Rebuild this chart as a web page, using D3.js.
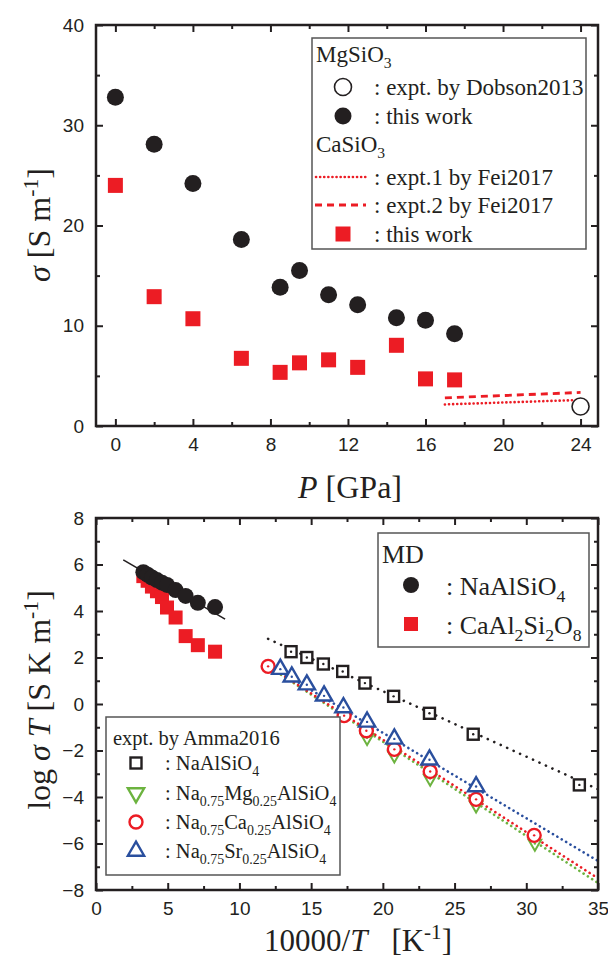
<!DOCTYPE html>
<html>
<head>
<meta charset="utf-8">
<script src="https://cdn.jsdelivr.net/npm/d3@7"></script>
<style>
  body { margin: 0; background: #fff; }
  svg { display: block; }
  .tick text { font-family: "Liberation Sans", Arial, sans-serif; font-size: 19px; fill: #231f20; }
  .tick line { stroke: #231f20; stroke-width: 2; }
  .serif { font-family: "Liberation Serif", "Times New Roman", serif; fill: #231f20; }
</style>
</head>
<body>
<svg id="chart" width="608" height="960"></svg>
<script>
// --- top panel: sigma vs pressure
const pressure = [0, 2, 4, 6.5, 8.5, 9.5, 11, 12.5, 14.5, 16, 17.5]
const mgsio3Sigma = [32.8, 28.1, 24.2, 18.6, 13.85, 15.5, 13.1, 12.1, 10.8, 10.55, 9.2]
const casio3Sigma = [24.0, 12.9, 10.7, 6.75, 5.35, 6.3, 6.6, 5.85, 8.05, 4.7, 4.6]
const dobsonP = [24]
const dobsonSigma = [1.95]
const fei1 = [[17, 2.15], [24, 2.6]]
const fei2 = [[17, 2.8], [24, 3.35]]

// --- bottom panel: log(sigma T) vs 10000/T
const mdInvT = [3.3, 3.6, 3.9, 4.25, 4.6, 4.95, 5.55, 6.25, 7.1, 8.3]
const mdNaAlSiO4 = [5.67, 5.56, 5.44, 5.33, 5.22, 5.12, 4.9, 4.65, 4.35, 4.17]
const mdCaAl2Si2O8 = [5.5, 5.3, 5.05, 4.85, 4.6, 4.15, 3.72, 2.92, 2.53, 2.25]
const mdFit = [[1.9, 6.2], [9.0, 3.65]]

const naInvT = [13.6, 14.7, 15.85, 17.2, 18.75, 20.75, 23.25, 26.3, 33.7]
const naLog = [2.25, 2.0, 1.72, 1.4, 0.9, 0.33, -0.4, -1.3, -3.48]
const naFit = [[12, 2.8], [35, -3.67]]

const mgInvT = [18.9, 20.8, 23.3, 26.5, 30.6]
const mgLog = [-1.45, -2.2, -3.2, -4.35, -6.0]
const mgFit = [[12.3, 1.5], [35, -7.7]]

const caInvT = [12.0, 17.3, 18.85, 20.8, 23.3, 26.5, 30.55]
const caLog = [1.62, -0.5, -1.15, -1.95, -2.9, -4.1, -5.65]
const caFit = [[12.0, 1.65], [35, -7.5]]

const srInvT = [12.85, 13.65, 14.7, 15.9, 17.25, 18.9, 20.8, 23.25, 26.5]
const srLog = [1.5, 1.17, 0.83, 0.35, -0.15, -0.77, -1.5, -2.4, -3.55]
const srFit = [[12.0, 1.7], [35, -6.75]]

const topXTicks = [0, 4, 8, 12, 16, 20, 24]
const topXMinor = [2, 6, 10, 14, 18, 22]
const topYTicks = [0, 10, 20, 30, 40]
const topYMinor = [5, 15, 25, 35]
const botXTicks = [0, 5, 10, 15, 20, 25, 30, 35]
const botXMinor = [2.5, 7.5, 12.5, 17.5, 22.5, 27.5, 32.5]
const botYTicks = [-8, -6, -4, -2, 0, 2, 4, 6, 8]
const botYMinor = [-7, -5, -3, -1, 1, 3, 5, 7]

const BLACK = '#231f20', RED = '#ec1c24', BLUE = '#2a4f9e', GREEN = '#6cb33f'

const svg = d3.select('#chart')

// text made of pieces: [text, kind] where kind is sub / sup / i / gap
function rich(g, x, y, parts, size, opts = {}) {
  const t = g.append('text').attr('class', 'serif').attr('x', x).attr('y', y)
    .attr('font-size', size)
  if(opts.anchor) t.attr('text-anchor', opts.anchor)
  if(opts.transform) t.attr('transform', opts.transform)
  let shift = 0
  parts.forEach(([s, k, dx])=> {
    const ts = t.append('tspan').text(s)
    let target = 0
    if(k === 'sub') { target = size * 0.28; ts.attr('font-size', size * 0.68) }
    if(k === 'sup') { target = -size * 0.38; ts.attr('font-size', size * 0.68) }
    if(k === 'i') ts.attr('font-style', 'italic')
    if(dx) ts.attr('dx', dx)
    if(target !== shift) ts.attr('dy', target - shift)
    shift = target
  })
  return t
}

function frame(x, y, xt, xm, yt, ym) {
  const g = svg.append('g')
  const [x0, x1] = x.range(), [y0, y1] = y.range()
  const axes = [
    [d3.axisBottom(x), `translate(0,${y0})`, xt, xm, true],
    [d3.axisTop(x), `translate(0,${y1})`, xt, xm, false],
    [d3.axisLeft(y), `translate(${x0},0)`, yt, ym, true],
    [d3.axisRight(y), `translate(${x1},0)`, yt, ym, false],
  ]
  axes.forEach(([ax, tr, major, minor, labels])=> {
    const a = g.append('g').attr('transform', tr)
      .call(ax.tickValues(major).tickSizeInner(-7).tickSizeOuter(0).tickPadding(labels ? 12 : 0)
        .tickFormat(labels ? d3.format('') : ''))
    a.select('.domain').remove()
    const b = g.append('g').attr('transform', tr)
      .call(ax.tickValues(minor).tickSizeInner(-4).tickFormat(''))
    b.select('.domain').remove()
  })
  g.append('rect').attr('x', x0).attr('y', y1).attr('width', x1 - x0).attr('height', y0 - y1)
    .attr('fill', 'none').attr('stroke', BLACK).attr('stroke-width', 2.5)
  return g
}

function dots(g, xs, ys, x, y, draw) {
  xs.forEach((v, i)=> draw(g, x(v), y(ys[i])))
}
const filledCircle = (r, c)=> (g, cx, cy)=> g.append('circle').attr('cx', cx).attr('cy', cy).attr('r', r).attr('fill', c)
const filledSquare = (s, c)=> (g, cx, cy)=> g.append('rect').attr('x', cx - s / 2).attr('y', cy - s / 2)
  .attr('width', s).attr('height', s).attr('fill', c)
const openCircle = (r, c, w, dot)=> (g, cx, cy)=> {
  g.append('circle').attr('cx', cx).attr('cy', cy).attr('r', r).attr('fill', '#fff').attr('stroke', c).attr('stroke-width', w)
  if(dot) g.append('circle').attr('cx', cx).attr('cy', cy).attr('r', 1.2).attr('fill', c)
}
const openSquare = (s, c, w, dot)=> (g, cx, cy)=> {
  g.append('rect').attr('x', cx - s / 2).attr('y', cy - s / 2).attr('width', s).attr('height', s)
    .attr('fill', '#fff').attr('stroke', c).attr('stroke-width', w)
  if(dot) g.append('circle').attr('cx', cx).attr('cy', cy).attr('r', 1.2).attr('fill', c)
}
const openTri = (size, c, w, down, dot)=> (g, cx, cy)=> {
  g.append('path').attr('d', d3.symbol(d3.symbolTriangle, size)())
    .attr('transform', `translate(${cx},${cy})${down ? ' rotate(180)' : ''}`)
    .attr('fill', '#fff').attr('stroke', c).attr('stroke-width', w)
  if(dot) g.append('circle').attr('cx', cx).attr('cy', cy).attr('r', 1.2).attr('fill', c)
}

function fitLine(g, pts, x, y, color, dash, width = 2.5, cap = 'round') {
  g.append('path').attr('d', d3.line().x((d)=> x(d[0])).y((d)=> y(d[1]))(pts))
    .attr('fill', 'none').attr('stroke', color).attr('stroke-width', width)
    .attr('stroke-dasharray', dash).attr('stroke-linecap', cap)
}

// ================= top panel
{
  const x = d3.scaleLinear().domain([-1, 24.9]).range([96, 598])
  const y = d3.scaleLinear().domain([0, 40]).range([426, 25])
  const g = svg.append('g')

  fitLine(g, fei1, x, y, RED, '0.1,4', 2.6)
  fitLine(g, fei2, x, y, RED, '7,5', 2.8, 'butt')
  dots(g, pressure, mgsio3Sigma, x, y, filledCircle(8.5, BLACK))
  dots(g, pressure, casio3Sigma, x, y, filledSquare(15, RED))
  dots(g, dobsonP, dobsonSigma, x, y, openCircle(8.5, BLACK, 1.6, false))

  frame(x, y, topXTicks, topXMinor, topYTicks, topYMinor)

  // legend
  const lg = svg.append('g')
  lg.append('rect').attr('x', 312).attr('y', 38).attr('width', 274).attr('height', 211)
    .attr('fill', '#fff').attr('stroke', '#555').attr('stroke-width', 1.5)
  const fs = 23
  rich(lg, 316, 62, [['MgSiO'], ['3', 'sub']], fs)
  openCircle(8.5, BLACK, 1.6, false)(lg, 343, 87)
  rich(lg, 374, 95, [[': expt. by Dobson2013']], fs)
  filledCircle(8.5, BLACK)(lg, 343, 116)
  rich(lg, 374, 124, [[': this work']], fs)
  rich(lg, 316, 152, [['CaSiO'], ['3', 'sub']], fs)
  fitLine(lg, [[0, 0], [1, 0]], d3.scaleLinear().range([316, 366]), ()=> 177, RED, '0.1,4', 2.6)
  rich(lg, 374, 185, [[': expt.1 by Fei2017']], fs)
  fitLine(lg, [[0, 0], [1, 0]], d3.scaleLinear().range([315, 366]), ()=> 205, RED, '7,5', 2.8, 'butt')
  rich(lg, 374, 213, [[': expt.2 by Fei2017']], fs)
  filledSquare(15, RED)(lg, 343, 234)
  rich(lg, 374, 242, [[': this work']], fs)

  rich(svg, 350, 498, [['P', 'i'], [' [GPa]']], 32, { anchor: 'middle' })
  rich(svg, 0, 0, [['σ', 'i'], [' [S m'], ['-1', 'sup'], [']']], 32,
    { anchor: 'middle', transform: 'translate(50,225) rotate(-90)' })
}

// ================= bottom panel
{
  const x = d3.scaleLinear().domain([0, 35]).range([96, 598])
  const y = d3.scaleLinear().domain([-8, 8]).range([890, 518])
  const g = svg.append('g')

  fitLine(g, naFit, x, y, BLACK, '0.1,7', 2.6)
  fitLine(g, mgFit, x, y, GREEN, '0.1,5', 2.6)
  fitLine(g, caFit, x, y, RED, '0.1,5', 2.6)
  fitLine(g, srFit, x, y, BLUE, '0.1,5', 2.6)
  fitLine(g, mdFit, x, y, BLACK, null, 1.6, 'butt')

  dots(g, mdInvT, mdCaAl2Si2O8, x, y, filledSquare(14, RED))
  dots(g, mdInvT, mdNaAlSiO4, x, y, filledCircle(8, BLACK))

  dots(g, naInvT, naLog, x, y, openSquare(11, BLACK, 2.4, true))
  dots(g, mgInvT, mgLog, x, y, openTri(70, GREEN, 2, true, true))
  dots(g, caInvT, caLog, x, y, openCircle(6.5, RED, 2.4, true))
  dots(g, srInvT, srLog, x, y, openTri(115, BLUE, 2.4, false, true))

  frame(x, y, botXTicks, botXMinor, botYTicks, botYMinor)

  // MD legend
  const md = svg.append('g')
  md.append('rect').attr('x', 378).attr('y', 533).attr('width', 211).attr('height', 114)
    .attr('fill', '#fff').attr('stroke', '#555').attr('stroke-width', 1.5)
  rich(md, 382, 563, [['MD']], 26)
  filledCircle(8, BLACK)(md, 411, 585)
  rich(md, 446, 595, [[': NaAlSiO'], ['4', 'sub']], 26)
  filledSquare(14, RED)(md, 411, 624)
  rich(md, 446, 634, [[': CaAl'], ['2', 'sub'], ['Si'], ['2', 'sub'], ['O'], ['8', 'sub']], 26)

  // experiment legend
  const ex = svg.append('g')
  ex.append('rect').attr('x', 106).attr('y', 717).attr('width', 234).attr('height', 158)
    .attr('fill', '#fff').attr('stroke', '#555').attr('stroke-width', 1.5)
  const fs = 20.5
  rich(ex, 113, 745, [['expt. by Amma2016']], fs)
  openSquare(11, BLACK, 2.4, false)(ex, 136, 763)
  rich(ex, 165, 770, [[': NaAlSiO'], ['4', 'sub']], fs)
  openTri(115, GREEN, 2.4, true, false)(ex, 136, 793)
  rich(ex, 165, 800, [[': Na'], ['0.75', 'sub'], ['Mg'], ['0.25', 'sub'], ['AlSiO'], ['4', 'sub']], fs)
  openCircle(6.5, RED, 2.4, false)(ex, 136, 822)
  rich(ex, 165, 829, [[': Na'], ['0.75', 'sub'], ['Ca'], ['0.25', 'sub'], ['AlSiO'], ['4', 'sub']], fs)
  openTri(115, BLUE, 2.4, false, false)(ex, 136, 851)
  rich(ex, 165, 858, [[': Na'], ['0.75', 'sub'], ['Sr'], ['0.25', 'sub'], ['AlSiO'], ['4', 'sub']], fs)

  rich(svg, 358, 951, [['10000/'], ['T', 'i'], ['[K', null, 24], ['-1', 'sup'], [']']], 31, { anchor: 'middle' })
  rich(svg, 0, 0, [['log '], ['σ', 'i'], [' '], ['T', 'i'], [' [S K m'], ['-1', 'sup'], [']']], 32,
    { anchor: 'middle', transform: 'translate(50,700) rotate(-90)' })
}
</script>
</body>
</html>
